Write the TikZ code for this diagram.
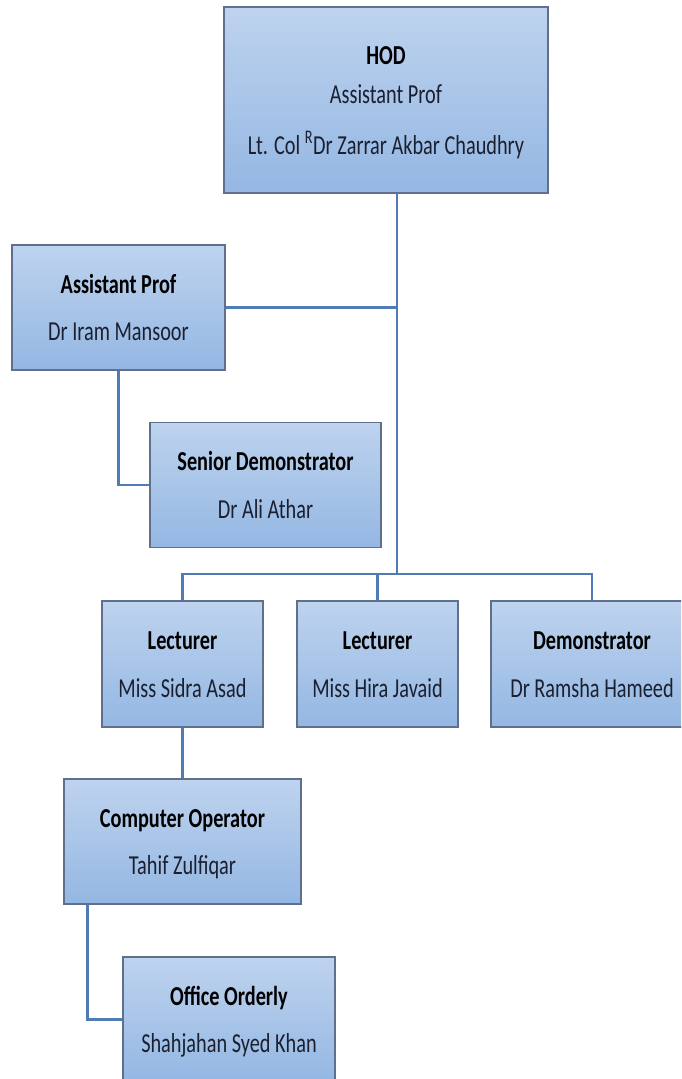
\documentclass[tikz,border=0pt]{standalone}
\usepackage{fontspec}
\setmainfont{Carlito}[FakeStretch=0.74]
\usepackage{tikz}
\usetikzlibrary{positioning}
\definecolor{ocblue}{RGB}{80,124,182}
\definecolor{octop}{RGB}{190,211,238}
\definecolor{ocbottom}{RGB}{148,183,227}
\definecolor{ocedge}{RGB}{96,112,140}
\definecolor{ocname}{RGB}{26,32,48}
\tikzstyle{post} = [rectangle, minimum height=31.25mm, inner sep=0pt, top color=octop, bottom color=ocbottom, draw=ocedge, line width=0.8pt, text centered, text=ocname, font=\fontsize{19.5}{34}\selectfont]
\tikzstyle{link} = [line width=1.8pt, color=ocblue]

\begin{document}
\begin{tikzpicture}[x=0.25mm, y=-0.25mm]
\useasboundingbox (0,0) rectangle (681,1079);
\clip (0,0) rectangle (681,1079);

% head of department
\node[post, minimum width=81mm, minimum height=46.5mm] (hod) at (386,100) {
\begin{tabular}{@{}c@{}}
\textbf{\color{black}HOD}\\[-6pt]
Assistant Prof\\[2pt]
Lt. Col \textsuperscript{R}Dr Zarrar Akbar Chaudhry
\end{tabular}
};

% second level
\node[post, minimum width=53.25mm] (asst) at (118.5,307.5) {
\begin{tabular}{@{}c@{}}
\textbf{\color{black}Assistant Prof}\\
Dr Iram Mansoor
\end{tabular}
};
\node[post, minimum width=57.75mm] (senior) at (265.5,485) {
\begin{tabular}{@{}c@{}}
\textbf{\color{black}Senior Demonstrator}\\
Dr Ali Athar
\end{tabular}
};

% third level
\node[post, minimum width=40.25mm, minimum height=31.5mm] (lect1) at (182.5,664) {
\begin{tabular}{@{}c@{}}
\textbf{\color{black}Lecturer}\\
Miss Sidra Asad
\end{tabular}
};
\node[post, minimum width=40.25mm, minimum height=31.5mm] (lect2) at (377.5,664) {
\begin{tabular}{@{}c@{}}
\textbf{\color{black}Lecturer}\\
Miss Hira Javaid
\end{tabular}
};
\node[post, minimum width=50.5mm, minimum height=31.5mm] (demo) at (592,664) {
\begin{tabular}{@{}c@{}}
\textbf{\color{black}Demonstrator}\\
Dr Ramsha Hameed
\end{tabular}
};

% office staff
\node[post, minimum width=59.25mm] (compop) at (182.5,841.5) {
\begin{tabular}{@{}c@{}}
\textbf{\color{black}Computer Operator}\\
Tahif Zulfiqar
\end{tabular}
};
\node[post, minimum width=53mm] (office) at (229,1019.5) {
\begin{tabular}{@{}c@{}}
\textbf{\color{black}Office Orderly}\\
Shahjahan Syed Khan
\end{tabular}
};

% connectors
\coordinate (bus) at (397,574);
\draw[link] (bus |- hod.south) -- (bus);
\draw[link] (asst.east) -- (asst.east -| bus);
\draw[link] (asst.south) |- (senior.west);
\draw[link] (lect1.north) |- (bus);
\draw[link] (lect2.north) |- (bus);
\draw[link] (demo.north) |- (bus);
\draw[link] (lect1.south) -- (compop.north);
\draw[link] ([xshift=6mm]compop.south west) |- (office.west);
\end{tikzpicture}
\end{document}
